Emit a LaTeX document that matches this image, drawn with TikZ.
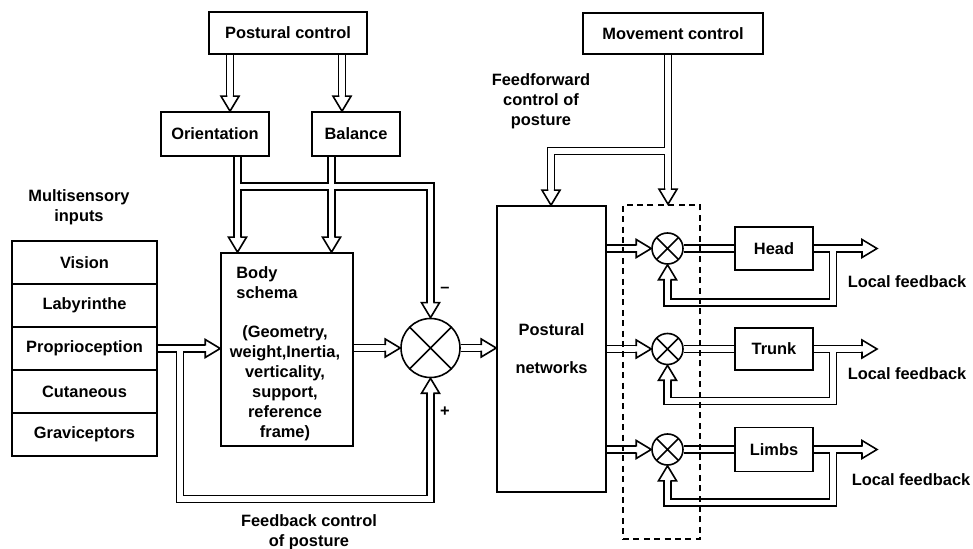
\documentclass[tikz,border=0pt]{standalone}
\usepackage{fontspec}
\setmainfont{Liberation Sans}
\usetikzlibrary{calc}
\pgfdeclarelayer{blk}\pgfdeclarelayer{wht}\pgfdeclarelayer{tips}
\pgfsetlayers{blk,wht,tips,main}
\tikzset{
  box/.style={draw, line width=0.8pt, fill=white, inner sep=0pt, font=\bfseries\fontsize{8.2}{10}\selectfont},
  txt/.style={inner sep=0pt, align=center, font=\bfseries\fontsize{8.2}{10}\selectfont},
  rail/.style={line width=4.25pt, black, line join=miter},
  gapl/.style={line width=2.75pt, white, line join=miter},
  sumj/.style={circle, draw, line width=0.8pt, fill=white, inner sep=0pt,
    path picture={\draw[line width=0.8pt] (path picture bounding box.north west) -- (path picture bounding box.south east) (path picture bounding box.north east) -- (path picture bounding box.south west);}},
  tipline/.style={line width=0.8pt, line join=miter}
}
\newcommand\DL[1]{\begin{pgfonlayer}{blk}\draw[rail] #1;\end{pgfonlayer}\begin{pgfonlayer}{wht}\draw[gapl] #1;\end{pgfonlayer}}
\newcommand\TIP[2]{\begin{pgfonlayer}{tips}\fill[white,shift={(#1)},rotate=#2] (0,0) -- (-15,9) -- (-15,-9) -- cycle;\draw[tipline,shift={(#1)},rotate=#2] (-15,2.75) -- (-15,9) -- (0,0) -- (-15,-9) -- (-15,-2.75);\end{pgfonlayer}}
\begin{document}
\begin{tikzpicture}[x=0.5pt,y=-0.5pt]
\useasboundingbox (0,0) rectangle (973,549);
% boxes
\node[box, minimum width=79pt, minimum height=21pt] (pc) at (288,33) {Postural control};
\node[box, minimum width=54pt, minimum height=22pt] (ori) at (215,134) {Orientation};
\node[box, minimum width=44pt, minimum height=22pt] (bal) at (356,134) {Balance};
\node[box, minimum width=66pt, minimum height=96.5pt] (body) at (287,349.5) {};
\node[txt, align=left, anchor=west] (bodyt) at (236,283) {Body\\schema};
\node[txt] (bodyp) at (285,383) {(Geometry,\\weight,Inertia,\\verticality,\\support,\\reference\\frame)};
\node[sumj, minimum size=29.5pt] (sum) at (430.5,348) {};
\node[box, minimum width=54.5pt, minimum height=143pt, align=center] (pn) at (551.5,349) {Postural\\[9pt]networks};
\node[box, minimum width=90pt, minimum height=20.5pt] (mc) at (673,33.5) {Movement control};
\node[draw, line width=0.8pt, dash pattern=on 3pt off 2.2pt, minimum width=38.5pt, minimum height=167pt, inner sep=0pt] (dash) at (661.5,372) {};
\node[sumj, minimum size=15.5pt] (s1) at (667.5,248.5) {};
\node[sumj, minimum size=15.5pt] (s2) at (667.5,349) {};
\node[sumj, minimum size=15.5pt] (s3) at (667.5,449.5) {};
\node[box, minimum width=39pt, minimum height=21.5pt] (head) at (774,248.5) {Head};
\node[box, minimum width=39pt, minimum height=21pt] (trunk) at (774,349) {Trunk};
\node[box, minimum width=39pt, minimum height=22pt] (limbs) at (774,449.5) {Limbs};
\node[box, minimum width=72.5pt, minimum height=21.5pt] (vis) at (84.5,262.5) {Vision};
\node[box, minimum width=72.5pt, minimum height=21.5pt] (lab) at (84.5,305.5) {Labyrinthe};
\node[box, minimum width=72.5pt, minimum height=21.5pt] (prop) at (84.5,348.5) {Proprioception};
\node[box, minimum width=72.5pt, minimum height=21.5pt] (cut) at (84.5,391.5) {Cutaneous};
\node[box, minimum width=72.5pt, minimum height=21.5pt] (grav) at (84.5,434.5) {Graviceptors};
% labels
\node[txt] (multi) at (79,207.5) {Multisensory\\inputs};
\node[txt] (ffw) at (541,101) {Feedforward\\control of\\posture};
\node[txt] (fbc) at (309,532.5) {Feedback control\\of posture};
\node[txt] (minus) at (445,290) {–};
\node[txt] (plus) at (445,412) {+};
\node[txt] (lf1) at (907,282) {Local feedback};
\node[txt] (lf2) at (907,374) {Local feedback};
\node[txt] (lf3) at (911,480) {Local feedback};
% helper coordinates
\coordinate (xa) at (230,0);
\coordinate (xb) at (342,0);
\coordinate (xc) at (237.5,0);
\coordinate (xd) at (331.5,0);
\coordinate (jy) at (0,186.5);
\coordinate (xf) at (180,0);
\coordinate (fy) at (0,499);
\coordinate (xm) at (668,0);
\coordinate (xp) at (551,0);
\coordinate (my) at (0,151);
\coordinate (o1) at (877,248.5);
\coordinate (o2) at (877,349);
\coordinate (o3) at (877,449.5);
\coordinate (fb1) at (833,302.5);
\coordinate (fb2) at (833,401);
\coordinate (fb3) at (833,502.5);
% connectors
\DL{(xa |- pc.south) -- ($(xa |- ori.north)+(0,-15)$)} \TIP{xa |- ori.north}{-90}
\DL{(xb |- pc.south) -- ($(xb |- bal.north)+(0,-15)$)} \TIP{xb |- bal.north}{-90}
\DL{(xc |- ori.south) -- ($(xc |- body.north)+(0,-15)$)} \TIP{xc |- body.north}{-90}
\DL{(xd |- bal.south) -- ($(xd |- body.north)+(0,-15)$)} \TIP{xd |- body.north}{-90}
\DL{(xc |- jy) -- (sum.north |- jy) -- ($(sum.north)+(0,-15)$)} \TIP{sum.north}{-90}
\DL{(prop.east) -- ($(body.west |- prop.east)+(-15,0)$)} \TIP{body.west |- prop.east}{0}
\DL{(xf |- prop.east) -- (xf |- fy) -- (sum.south |- fy) -- ($(sum.south)+(0,15)$)} \TIP{sum.south}{90}
\DL{(body.east |- sum.west) -- ($(sum.west)+(-15,0)$)} \TIP{sum.west}{0}
\DL{(sum.east) -- ($(pn.west |- sum.east)+(-15,0)$)} \TIP{pn.west |- sum.east}{0}
\DL{(xm |- mc.south) -- ($(xm |- dash.north)+(0,-15)$)} \TIP{xm |- dash.north}{-90}
\DL{(xm |- my) -- (xp |- my) -- ($(xp |- pn.north)+(0,-15)$)} \TIP{xp |- pn.north}{-90}
% head
\DL{(pn.east |- s1.west) -- ($(s1.west)+(-15,0)$)} \TIP{s1.west}{0}
\DL{(s1.east) -- (head.west)}
\DL{(head.east) -- ($(o1)+(-15,0)$)} \TIP{o1}{0}
\DL{(fb1 |- head.east) -- (fb1) -- (s1.south |- fb1) -- ($(s1.south)+(0,15)$)} \TIP{s1.south}{90}
% trunk
\DL{(pn.east |- s2.west) -- ($(s2.west)+(-15,0)$)} \TIP{s2.west}{0}
\DL{(s2.east) -- (trunk.west)}
\DL{(trunk.east) -- ($(o2)+(-15,0)$)} \TIP{o2}{0}
\DL{(fb2 |- trunk.east) -- (fb2) -- (s2.south |- fb2) -- ($(s2.south)+(0,15)$)} \TIP{s2.south}{90}
% limbs
\DL{(pn.east |- s3.west) -- ($(s3.west)+(-15,0)$)} \TIP{s3.west}{0}
\DL{(s3.east) -- (limbs.west)}
\DL{(limbs.east) -- ($(o3)+(-15,0)$)} \TIP{o3}{0}
\DL{(fb3 |- limbs.east) -- (fb3) -- (s3.south |- fb3) -- ($(s3.south)+(0,15)$)} \TIP{s3.south}{90}
\end{tikzpicture}
\end{document}
